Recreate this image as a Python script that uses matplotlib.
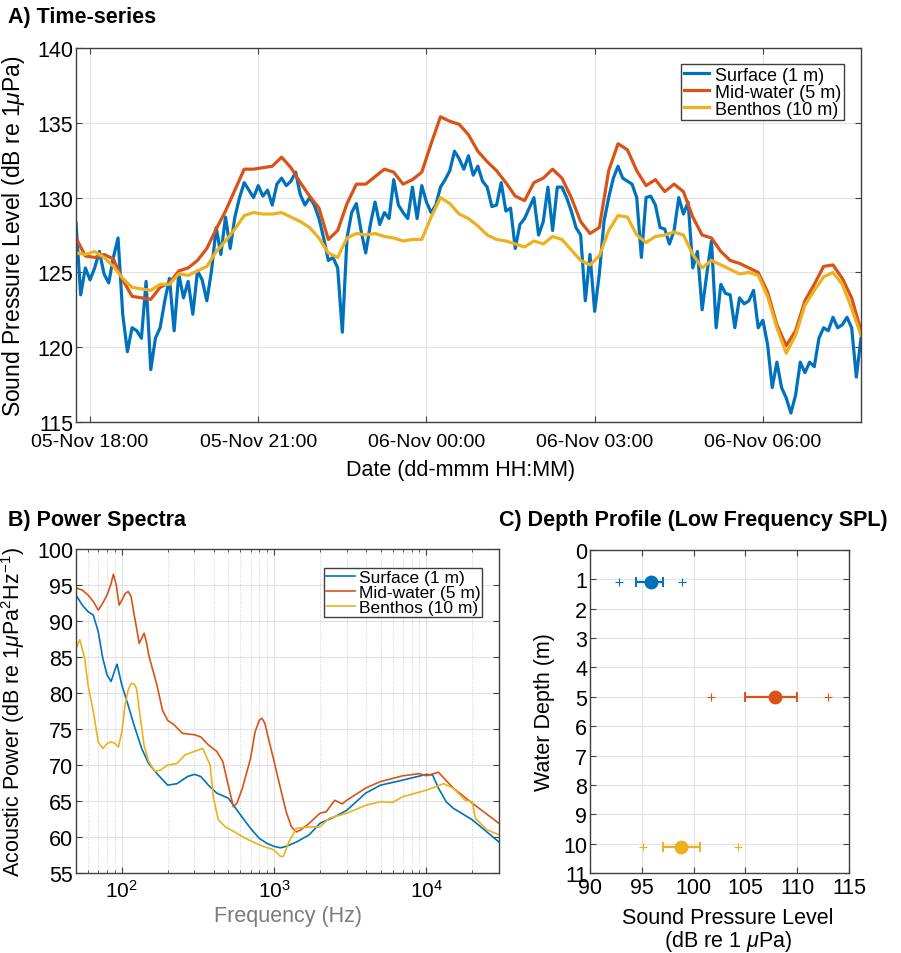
import numpy as np
import pandas as pd
import matplotlib
matplotlib.use('Agg')
import matplotlib.pyplot as plt
import matplotlib.dates as mdates
from matplotlib.ticker import LogLocator, NullFormatter, MultipleLocator

plt.rcParams['font.family'] = ['Liberation Sans', 'DejaVu Sans']
plt.rcParams['mathtext.fontset'] = 'custom'
plt.rcParams['mathtext.rm'] = 'Liberation Sans'
plt.rcParams['mathtext.it'] = 'Liberation Sans:italic'
plt.rcParams['mathtext.bf'] = 'Liberation Sans:bold'

BLUE, ORANGE, YELLOW = '#0072BD', '#D95319', '#EDB120'
labels = ['Surface (1 m)', 'Mid-water (5 m)', 'Benthos (10 m)']

# --- A) time series, SPL in dB re 1 uPa ---
# surface every 5 min from 05-Nov 17:45
surf_spl = [
    128.3, 123.5, 125.3, 124.5, 125.3, 126.4, 124.9, 124.3, 126.0, 127.3,
    122.2, 119.7, 121.3, 121.1, 120.6, 124.4, 118.5, 120.6, 121.3, 123.1,
    124.6, 121.1, 124.9, 123.3, 124.4, 122.2, 125.1, 124.5, 123.1, 125.1,
    128.0, 126.2, 128.7, 126.6, 128.7, 130.0, 131.0, 130.5, 130.0, 130.8,
    130.1, 130.5, 129.5, 130.9, 131.3, 130.8, 131.1, 131.7, 130.2, 129.5,
    130.0, 129.5, 128.6, 127.3, 125.8, 126.0, 125.3, 121.0, 127.3, 129.0,
    129.6, 127.8, 126.3, 128.2, 129.7, 128.2, 129.0, 128.6, 131.2, 129.5,
    129.0, 128.6, 130.7, 128.6, 130.8, 129.7, 129.0, 129.5, 130.7, 131.2,
    131.8, 133.1, 132.6, 131.9, 132.8, 131.5, 132.1, 131.1, 130.7, 129.4,
    129.5, 131.0, 129.1, 129.3, 126.6, 128.2, 128.6, 129.3, 130.0, 127.5,
    128.4, 130.7, 127.8, 130.7, 130.7, 130.0, 129.1, 128.0, 127.5, 123.1,
    126.2, 122.4, 124.9, 128.4, 130.0, 131.3, 132.1, 131.3, 131.1, 130.9,
    130.0, 126.0, 130.0, 130.1, 129.5, 128.0, 127.9, 126.9, 127.8, 130.0,
    128.9, 129.7, 125.3, 126.4, 122.5, 124.9, 127.1, 121.3, 124.2, 123.6,
    123.5, 121.3, 123.3, 122.9, 123.1, 123.8, 121.3, 121.8, 120.2, 117.3,
    119.0, 117.3, 116.6, 115.6, 116.8, 119.0, 118.3, 119.0, 118.7, 120.6,
    121.3, 121.1, 122.0, 121.3, 121.5, 122.0, 121.3, 118.0, 120.6,
]
# mid-water and benthos every 10 min from 05-Nov 17:45
mid_spl = [
    127.3, 126.1, 126.0, 126.2, 125.9, 124.5, 123.4, 123.3, 123.2, 124.0,
    124.3, 125.1, 125.3, 125.8, 126.6, 127.9, 129.1, 130.5, 131.9, 131.9,
    132.0, 132.1, 132.7, 132.0, 131.0, 130.1, 129.3, 127.2, 127.8, 129.6,
    130.9, 130.9, 131.4, 131.9, 131.7, 130.9, 131.2, 131.7, 133.6, 135.4,
    135.1, 134.9, 134.2, 133.1, 132.4, 131.8, 131.0, 130.1, 129.8, 131.0,
    131.3, 131.9, 131.3, 130.0, 128.4, 127.6, 128.0, 131.8, 133.6, 133.2,
    131.8, 130.8, 131.2, 130.4, 130.9, 130.4, 128.7, 127.5, 127.3, 126.4,
    125.8, 125.6, 125.3, 125.0, 123.7, 121.5, 120.1, 121.1, 123.1, 124.2,
    125.4, 125.5, 124.6, 123.3, 121.1,
]
ben_spl = [
    126.3, 126.2, 126.4, 126.0, 125.4, 124.6, 124.0, 123.9, 123.8, 124.2,
    124.2, 124.9, 124.8, 125.1, 125.4, 126.4, 127.1, 127.9, 128.8, 129.0,
    128.9, 128.9, 129.0, 128.7, 128.4, 128.0, 127.3, 126.3, 126.0, 127.3,
    127.6, 127.5, 127.6, 127.4, 127.3, 127.1, 127.2, 127.2, 128.7, 130.0,
    129.6, 128.9, 128.6, 128.1, 127.5, 127.2, 127.1, 126.9, 126.7, 127.1,
    126.9, 127.4, 127.2, 126.5, 125.8, 125.5, 126.1, 127.8, 128.8, 128.7,
    127.5, 127.0, 127.4, 127.5, 127.7, 127.5, 126.2, 125.3, 125.8, 125.5,
    125.2, 124.9, 125.0, 124.8, 123.4, 121.3, 119.6, 120.8, 122.8, 123.8,
    124.7, 125.0, 124.2, 122.6, 120.8,
]

t5 = pd.date_range('2017-11-05 17:45', periods=len(surf_spl), freq='5min')
t10 = pd.date_range('2017-11-05 17:45', periods=len(mid_spl), freq='10min')

# --- B) power spectra ---
surf_f = [50, 55, 60, 65, 70, 75, 80, 85, 90, 93, 100, 110, 120, 135, 150, 170, 200, 230,
          270, 300, 330, 370, 420, 500, 600, 700, 800, 900, 1000, 1100, 1200, 1400, 1700,
          2000, 2500, 3000, 4000, 5000, 7000, 10000, 11000, 12000, 13500, 15000, 20000, 30000]
surf_p = [93.6, 92.2, 91.3, 90.8, 88.5, 84.8, 82.5, 81.6, 83.2, 84.0, 81.1, 78.3, 75.6, 72.3,
          70.2, 68.8, 67.2, 67.4, 68.4, 68.7, 68.4, 67.2, 66.1, 65.4, 63.1, 61.2, 59.8, 59.1,
          58.7, 58.5, 58.7, 59.3, 60.3, 61.9, 62.8, 63.7, 66.1, 67.2, 67.9, 68.7, 68.6, 66.8,
          64.9, 64.0, 62.4, 59.3]
mid_f = [50, 55, 60, 65, 70, 75, 80, 85, 88, 92, 96, 100, 105, 110, 115, 120, 125, 130, 135,
         140, 145, 150, 170, 185, 200, 220, 250, 300, 330, 370, 420, 460, 500, 540, 570, 620,
         700, 750, 800, 830, 870, 930, 1000, 1100, 1200, 1300, 1400, 1500, 1700, 2000, 2200,
         2500, 2800, 3000, 4000, 5000, 7000, 9000, 10000, 12000, 15000, 20000, 30000]
mid_p = [94.6, 94.3, 93.6, 92.7, 91.5, 92.5, 93.6, 95.2, 96.5, 95.0, 92.2, 92.9, 93.8, 94.1,
         93.4, 91.1, 89.0, 86.9, 87.6, 88.3, 87.1, 85.3, 81.1, 77.6, 76.2, 75.6, 74.4, 74.2,
         73.9, 72.8, 71.9, 70.5, 67.2, 64.2, 64.7, 66.8, 70.9, 74.6, 76.2, 76.5, 75.8, 73.2,
         70.5, 66.8, 63.5, 61.4, 60.7, 61.0, 61.9, 63.3, 63.5, 65.1, 64.6, 65.1, 66.8, 67.7,
         68.5, 68.8, 68.5, 69.0, 66.8, 64.7, 61.9]
ben_f = [50, 53, 57, 60, 65, 70, 75, 80, 85, 90, 95, 100, 105, 110, 115, 120, 125, 130, 140,
         150, 165, 180, 200, 230, 260, 300, 340, 380, 400, 430, 480, 550, 650, 800, 1000, 1100,
         1150, 1250, 1400, 1700, 2000, 2300, 3000, 4000, 5000, 6000, 7000, 10000, 13000, 15000,
         18000, 20000, 21000, 25000, 30000]
ben_p = [86.2, 87.4, 84.8, 81.1, 77.4, 73.2, 72.3, 73.0, 73.2, 73.0, 72.5, 74.6, 78.3, 80.4,
         81.3, 81.3, 80.6, 77.8, 72.7, 70.5, 69.1, 69.3, 70.0, 70.2, 71.4, 71.9, 72.3, 70.0,
         65.4, 62.4, 61.4, 60.7, 59.8, 58.9, 58.2, 57.3, 57.3, 59.3, 61.2, 61.4, 61.4, 62.6,
         63.3, 64.4, 64.9, 64.8, 65.6, 66.5, 67.4, 66.8, 65.1, 64.9, 62.6, 61.0, 60.3]

# --- C) depth profile ---
depth = [1.1, 5.0, 10.1]
spl_mean = [95.9, 107.9, 98.8]
spl_lo = [94.4, 105.0, 97.0]
spl_hi = [97.0, 110.0, 100.6]
spl_min = [92.8, 101.7, 95.1]
spl_max = [98.9, 113.0, 104.3]
colors = [BLUE, ORANGE, YELLOW]

W, H = 901, 954
fig = plt.figure(figsize=(W / 100, H / 100), dpi=100)


def px_axes(l, t, r, b):
    return fig.add_axes([l / W, 1 - b / H, (r - l) / W, (b - t) / H])


def style(ax):
    ax.grid(True, color='#e2e2e2', lw=0.8)
    ax.set_axisbelow(True)
    for s in ax.spines.values():
        s.set_color('#404040')
        s.set_linewidth(1)
    ax.tick_params(direction='in', top=True, right=True, length=4, width=0.8,
                   color='#404040', labelsize=15.5, pad=2)


# A
axA = px_axes(76, 49, 861, 423)
style(axA)
axA.plot(t5, surf_spl, color=BLUE, lw=2.3, label=labels[0])
axA.plot(t10, mid_spl, color=ORANGE, lw=2.3, label=labels[1])
axA.plot(t10, ben_spl, color=YELLOW, lw=2.3, label=labels[2])
axA.set_xlim(pd.Timestamp('2017-11-05 17:45'), pd.Timestamp('2017-11-06 07:45'))
axA.set_ylim(115, 140)
axA.yaxis.set_major_locator(MultipleLocator(5))
axA.xaxis.set_major_locator(mdates.HourLocator(byhour=range(0, 24, 3)))
axA.xaxis.set_major_formatter(mdates.DateFormatter('%d-%b %H:%M'))
axA.tick_params(axis='x', labelsize=14, pad=8)
axA.set_xlabel('Date (dd-mmm HH:MM)', fontsize=15.5)
axA.xaxis.set_label_coords(0.49, -0.099)
axA.set_ylabel(r'Sound Pressure Level (dB re 1$\mu$Pa)', fontsize=16.5)
axA.yaxis.set_label_coords(-0.0624, 0.5)
axA.legend(loc='upper right', bbox_to_anchor=(0.978, 0.957), borderaxespad=0,
           fontsize=13, labelspacing=0, handlelength=1.4, handletextpad=0.3,
           borderpad=0.15, fancybox=False, framealpha=1, edgecolor='#404040')
fig.text(8 / W, 1 - 23 / H, 'A) Time-series', fontsize=15.5, fontweight='bold', va='baseline')

# B
axB = px_axes(76, 550, 499, 874)
style(axB)
axB.semilogx(surf_f, surf_p, color=BLUE, lw=1.2, label=labels[0])
axB.semilogx(mid_f, mid_p, color=ORANGE, lw=1.2, label=labels[1])
axB.semilogx(ben_f, ben_p, color=YELLOW, lw=1.2, label=labels[2])
axB.set_xlim(50, 30000)
axB.set_ylim(55, 100)
axB.yaxis.set_major_locator(MultipleLocator(5))
axB.xaxis.set_minor_locator(LogLocator(base=10, subs=np.arange(2, 10)))
axB.xaxis.set_minor_formatter(NullFormatter())
axB.grid(True, which='minor', axis='x', ls=':', color='#cfcfcf', lw=0.7)
axB.tick_params(which='minor', direction='in', top=True, length=2.5, width=0.6, color='#404040')
axB.tick_params(axis='x', labelsize=15, pad=4)
axB.set_xlabel('Frequency (Hz)', fontsize=15.5, color='#7a7a7a')
axB.xaxis.set_label_coords(0.5, -0.10)
axB.set_ylabel(r'Acoustic Power (dB re 1$\mu$Pa$^2$Hz$^{-1}$)', fontsize=15.5)
axB.yaxis.set_label_coords(-0.1158, 0.5)
axB.legend(loc='upper right', bbox_to_anchor=(0.960, 0.941), borderaxespad=0,
           fontsize=12.5, labelspacing=0, handlelength=1.7, handletextpad=0.2,
           borderpad=0.1, fancybox=False, framealpha=1, edgecolor='#404040')
fig.text(8 / W, 1 - 526 / H, 'B) Power Spectra', fontsize=15.5, fontweight='bold', va='baseline')

# C
axC = px_axes(590, 551, 849, 874)
style(axC)
for d, m, lo, hi, mn, mx, c in zip(depth, spl_mean, spl_lo, spl_hi, spl_min, spl_max, colors):
    axC.errorbar(m, d, xerr=[[m - lo], [hi - m]], fmt='o', color=c, ms=9, elinewidth=1.6,
                 capsize=3.5, capthick=1.4)
    axC.plot([mn, mx], [d, d], '+', color=c, ms=6, mew=0.8)
axC.set_xlim(90, 115)
axC.set_ylim(11, 0)
axC.set_xticks(range(90, 116, 5))
axC.set_yticks(range(0, 12))
axC.tick_params(axis='x', pad=3)
axC.set_xlabel('Sound Pressure Level\n' + r'(dB re 1 $\mu$Pa)', fontsize=15.5, linespacing=1.0)
axC.xaxis.set_label_coords(0.533, -0.105)
axC.set_ylabel('Water Depth (m)', fontsize=15.5)
axC.yaxis.set_label_coords(-0.135, 0.5)
fig.text(499 / W, 1 - 526 / H, 'C) Depth Profile (Low Frequency SPL)', fontsize=15.5,
         fontweight='bold', va='baseline')

fig.savefig('out.png', dpi=100)
